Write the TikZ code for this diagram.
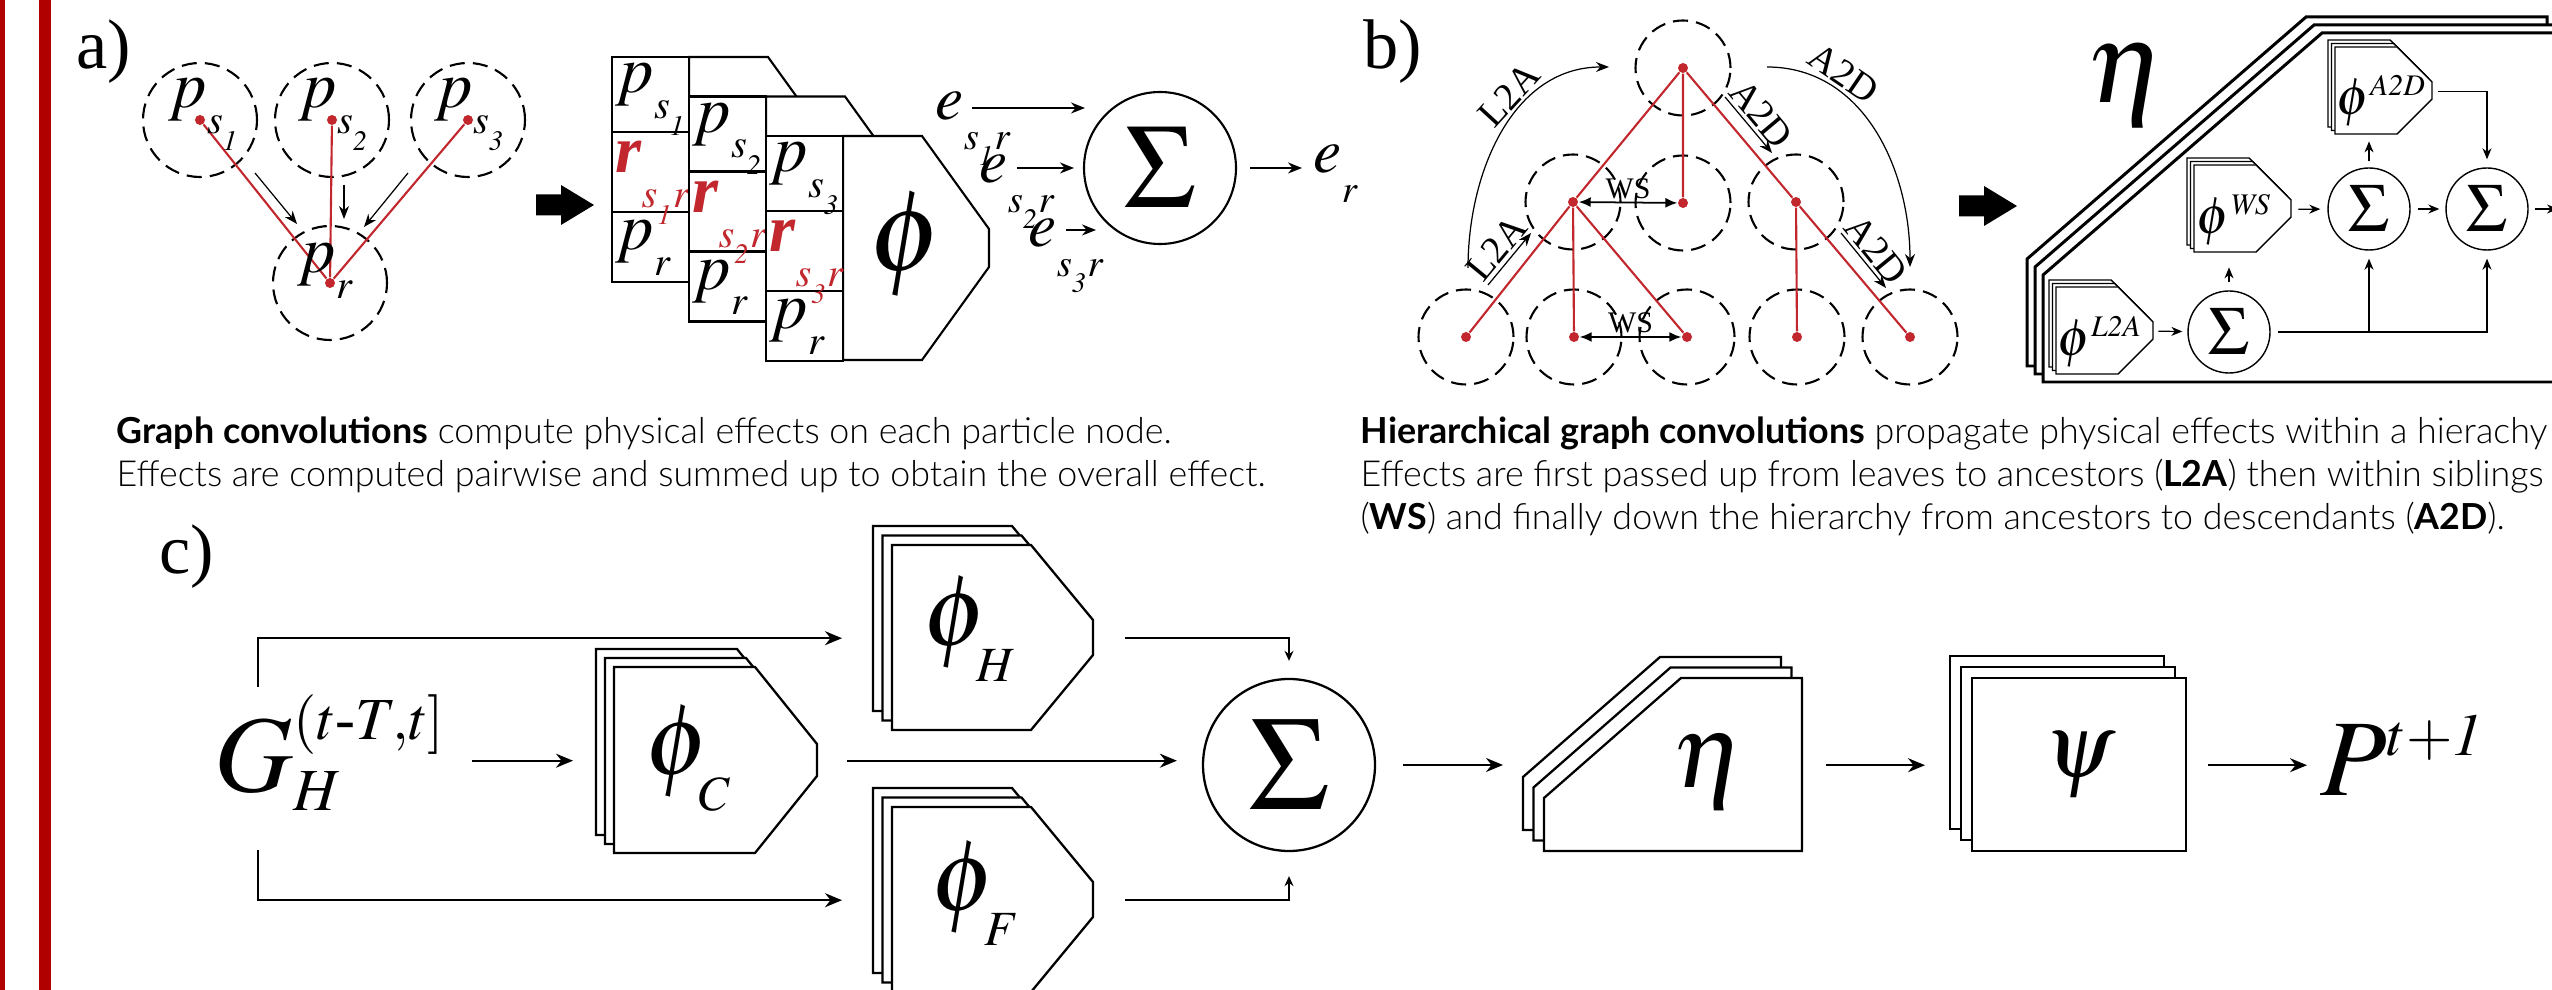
\documentclass[tikz,border=0pt]{standalone}
\usepackage{amsmath}
\usepackage{mathptmx}
\usepackage[no-math]{fontspec}
\setmainfont{Liberation Serif}
\setsansfont{Lato}[UprightFont=* Light, BoldFont=* Bold]
\usetikzlibrary{arrows.meta,calc}
\definecolor{PathRed}{HTML}{C1272D}
\definecolor{BarRed}{HTML}{B00000}
\DeclareMathSizes{31}{31}{17}{14}
\DeclareMathSizes{29}{29}{14}{11}
\DeclareMathSizes{19}{19}{11.5}{8}
\DeclareMathSizes{18}{18}{11}{8}
\DeclareMathSizes{15}{15}{8.5}{6}
\newcommand{\lowsub}[2][0.5ex]{\raisebox{-#1}{$\scriptstyle #2$}}
\newcommand{\lowsubb}[2][0.35ex]{\raisebox{-#1}{$\scriptscriptstyle #2$}}
\newcommand{\fsz}[1]{\fontsize{#1}{#1}\selectfont}

\tikzset{
  pics/phistack/.style n args={6}{code={
    \foreach \k in {2,1,0}
      \filldraw[fill=white, line width=#6, shift={(-\k*#5,-\k*#5)}]
        (0,0) -- (#1-#3,0) -- (#1,#4) -- (#1,#2-#4) -- (#1-#3,#2) -- (0,#2) -- cycle;
    \node[inner sep=0, minimum width=#1*0.1mm, minimum height=#2*0.1mm, anchor=north west] (-box) at (0,0) {};
  }},
  pics/etastack/.style n args={6}{code={
    \foreach \k in {2,1,0}
      \filldraw[fill=white, line width=#6, shift={(-\k*#5,-\k*#5)}]
        (0,#4) -- (#3,0) -- (#1,0) -- (#1,#2) -- (0,#2) -- cycle;
    \node[inner sep=0, minimum width=#1*0.1mm, minimum height=#2*0.1mm, anchor=north west] (-box) at (0,0) {};
  }},
  pics/psistack/.style n args={4}{code={
    \foreach \k in {2,1,0}
      \filldraw[fill=white, line width=#4, shift={(-\k*#3,-\k*#3)}] (0,0) rectangle (#1,#2);
    \node[inner sep=0, minimum width=#1*0.1mm, minimum height=#2*0.1mm, anchor=north west] (-box) at (0,0) {};
  }},
  pics/fatarrow/.style={code={
    \fill (0,-10.5) -- (25,-10.5) -- (25,-20) -- (58,0) -- (25,20) -- (25,10.5) -- (0,10.5) -- cycle;
  }}
}

\begin{document}
\begin{tikzpicture}[x=0.1mm, y=-0.1mm,
    lab/.style={font=\rmfamily\fsz{20}, inner sep=0},
    ring/.style={circle, draw, line width=0.6pt, dash pattern=on 4.3pt off 2.3pt, inner sep=0, minimum size=11.4mm},
    ringb/.style={ring, minimum size=9.5mm},
    reddot/.style={circle, fill=PathRed, inner sep=0, minimum size=1mm},
    redline/.style={draw=PathRed, line width=0.6pt},
    blk/.style={fill=white, draw, line width=0.6pt},
    pa/.style={font=\fsz{19}, inner sep=0, anchor=base west},
    ea/.style={font=\fsz{18}, inner sep=0, anchor=base west},
    phb/.style={font=\fsz{15}, inner sep=0, anchor=base west},
    phc/.style={font=\fsz{29}, inner sep=0, anchor=base west},
    sumA/.style={circle, draw, line width=0.6pt, minimum size=15.2mm, inner sep=0, font=\fsz{34}},
    sumB/.style={circle, draw, line width=0.4pt, minimum size=8.2mm, inner sep=0, font=\fsz{19.5}},
    sumC/.style={circle, draw, line width=0.65pt, minimum size=17.2mm, inner sep=0, font=\fsz{38}},
    tarr/.style={-{Stealth[length=1.3mm, width=1mm]}, line width=0.35pt},
    aarr/.style={-{Stealth[length=1.4mm, width=1.1mm]}, line width=0.5pt},
    sarr/.style={-{Stealth[length=1.1mm, width=0.9mm]}, line width=0.35pt},
    carr/.style={-{Stealth[length=1.7mm, width=1.4mm]}, line width=0.6pt},
    carr2/.style={-{Stealth[length=1mm, width=0.9mm]}, line width=0.5pt},
    wsarr/.style={{Latex[length=1.2mm, width=1mm]}-{Latex[length=1.2mm, width=1mm]}, line width=0.5pt},
    wslab/.style={above, inner sep=0.8pt, font=\rmfamily\fsz{8.5}},
    tlab/.style={inner sep=1pt, font=\rmfamily\fsz{11}},
    captext/.style={font=\sffamily\fsz{10.2}, inner sep=0, anchor=base west}
  ]
  \useasboundingbox (0,0) rectangle (2552,990);
  \fill[BarRed] (0,0) rectangle (5,990);
  \fill[BarRed] (39,0) rectangle (51,990);

  \node[lab] (laba) at (104,52) {a)};
  \foreach \n/\x/\y in {s1/200/120, s2/332/120, s3/468/120, r/330/283} {
    \node[ring] (c\n) at (\x,\y) {};
    \node[reddot] (d\n) at (\x,\y) {};
  }
  \draw[redline] (ds1) -- (dr) (ds2) -- (dr) (ds3) -- (dr);
  \node[pa] (ls1) at (168,108) {$p_{\lowsub{s_{\lowsubb{\mathit{1}}}}}$};
  \node[pa] (ls2) at (298,108) {$p_{\lowsub{s_{\lowsubb{\mathit{2}}}}}$};
  \node[pa] (ls3) at (434,108) {$p_{\lowsub{s_{\lowsubb{\mathit{3}}}}}$};
  \node[pa] (lr) at (297,273) {$p_{\lowsub{r}}$};
  \coordinate (a1s) at (255,173); \coordinate (a1e) at (297,224);
  \coordinate (a2s) at (344,185); \coordinate (a2e) at (344,219);
  \coordinate (a3s) at (408,173); \coordinate (a3e) at (364,227);
  \draw[tarr] (a1s) -- (a1e);
  \draw[tarr] (a2s) -- (a2e);
  \draw[tarr] (a3s) -- (a3e);
  \pic at (536,205) {fatarrow};

  \foreach \i/\s in {0/1,1/2,2/3} {
    \pgfmathsetmacro{\xa}{612+77*\i}
    \pgfmathsetmacro{\ya}{57+39.5*\i}
    \filldraw[blk] (\xa+77,\ya) -- ++(79,0) -- ++(67,93) -- ++(0,38) -- ++(-67,93) -- ++(-79,0) -- cycle;
    \filldraw[blk] (\xa,\ya) rectangle ++(77,225);
    \draw[blk] (\xa,\ya+75) -- ++(77,0) (\xa,\ya+155) -- ++(77,0);
    \node[pa] (bp\s) at (\xa+3,\ya+36) {$p_{\lowsub{s_{\lowsubb{\mathit{\s}}}}}$};
    \node[pa, text=PathRed] (br\s) at (\xa+3,\ya+116) {$\text{\bfseries\itshape r}_{\lowsub[0.8ex]{s_{\lowsubb{\mathit{\s}}}r}}$};
    \node[pa] (bq\s) at (\xa+3,\ya+193) {$p_{\lowsub{r}}$};
  }
  \node[font=\fsz{33}, inner sep=0] (phiA) at (906,245) {$\phi$};

  \node[ea] (es1) at (935,120) {$e_{\lowsub[0.7ex]{s_{\lowsubb{\mathit{1}}}r}}$};
  \node[ea] (es2) at (979,183) {$e_{\lowsub[0.7ex]{s_{\lowsubb{\mathit{2}}}r}}$};
  \node[ea] (es3) at (1028,247) {$e_{\lowsub[0.7ex]{s_{\lowsubb{\mathit{3}}}r}}$};
  \node[sumA] (sigA) at (1160,168) {$\Sigma$};
  \coordinate (e1a) at (972,108); \coordinate (e1b) at (1085,108);
  \coordinate (e2a) at (1017,168); \coordinate (e2b) at (1074,168);
  \coordinate (e3a) at (1066,230); \coordinate (e3b) at (1096,230);
  \draw[aarr] (e1a) -- (e1b);
  \draw[aarr] (e2a) -- (e2b);
  \draw[aarr] (e3a) -- (e3b);
  \node[ea] (er) at (1313,173) {$e_{\lowsub[0.7ex]{r}}$};
  \draw[aarr, shorten <=1.3mm, shorten >=1.1mm] (sigA) -- (sigA -| er.west);

  \node[captext] (capa1) at (116,444) {\textbf{Graph convolutions} compute physical effects on each particle node.};
  \node[captext] (capa2) at (116,487) {Effects are computed pairwise and summed up to obtain the overall effect.};

  \node[lab] (labb) at (1393,52) {b)};
  \foreach \n/\x/\y in {t0/1683/68, t1a/1573/202, t1b/1683/203, t1c/1796/202, t2a/1466/337, t2b/1574/337, t2c/1687/337, t2d/1797/337, t2e/1910/337} {
    \node[ringb] (c\n) at (\x,\y) {};
    \node[reddot] (\n) at (\x,\y) {};
  }
  \draw[redline] (t0) -- (t1a) (t0) -- (t1b) (t0) -- (t1c)
    (t1a) -- (t2a) (t1a) -- (t2b) (t1a) -- (t2c) (t1c) -- (t2d) (t1c) -- (t2e);
  \draw[wsarr] (t1a) -- node[wslab] (ws1) {WS} (t1b);
  \draw[wsarr] (t2b) -- node[wslab] (ws2) {WS} (t2c);
  \coordinate (l2aA) at (1488,285); \coordinate (l2aB) at (1531,233);
  \draw[tarr] (l2aA) -- node[tlab, sloped, above] (l2aS) {L2A} (l2aB);
  \coordinate (a2dA) at (1725,97); \coordinate (a2dB) at (1772,153);
  \draw[tarr] (a2dA) -- node[tlab, sloped, above] (a2dS1) {A2D} (a2dB);
  \coordinate (a2dC) at (1841,233); \coordinate (a2dD) at (1886,288);
  \draw[tarr] (a2dC) -- node[tlab, sloped, above] (a2dS2) {A2D} (a2dD);
  \coordinate (l2aC) at (1468,268); \coordinate (l2aD) at (1609,67);
  \draw[tarr] (l2aC) .. controls +(0,-96) and +(-96,0) .. (l2aD) node[tlab, sloped, above, pos=0.62] (l2aL) {L2A};
  \coordinate (a2dE) at (1767,67); \coordinate (a2dF) at (1910,267);
  \draw[tarr] (a2dE) .. controls +(97,0) and +(0,-97) .. (a2dF) node[tlab, sloped, above, pos=0.27] (a2dL) {A2D};
  \pic at (1959,206) {fatarrow};

  \pic (etaB) at (2043,33) {etastack={520}{349}{279}{242}{8}{0.85pt}};
  \node[font=\fsz{33}, inner sep=0] (etaBl) at (2126,85) {$\eta$};
  \pic (pL2A) at (2056,287) {phistack={97}{87}{35}{35}{3.5}{0.4pt}};
  \pic (pWS) at (2194,165) {phistack={97}{87}{35}{35}{3.5}{0.4pt}};
  \pic (pA2D) at (2335,47) {phistack={97}{87}{35}{35}{3.5}{0.4pt}};
  \node[phb] (pL2Al) at (2057,356) {$\phi^{\mathit{L2A}}$};
  \node[phb] (pWSl) at (2196,234) {$\phi^{\mathit{WS}}$};
  \node[phb] (pA2Dl) at (2336,115) {$\phi^{\mathit{A2D}}$};
  \node[sumB] (s1) at (2229,332) {$\Sigma$};
  \node[sumB] (s2) at (2369,209) {$\Sigma$};
  \node[sumB] (s3) at (2487,209) {$\Sigma$};
  \draw[sarr, shorten <=0.4mm, shorten >=0.5mm] (pL2A-box.east) -- (s1);
  \draw[sarr, shorten <=0.8mm, shorten >=1.4mm] (s1) -- (s1 |- pWS-box.south);
  \draw[sarr, shorten <=0.6mm, shorten >=0.7mm] (pWS-box.east) -- (s2);
  \draw[sarr, shorten <=0.6mm, shorten >=0.6mm] (s2) -- (s2 |- pA2D-box.south);
  \draw[sarr, shorten <=0.7mm, shorten >=0.6mm] (s2) -- (s3);
  \draw[sarr, shorten <=0.5mm, shorten >=0.8mm] (pA2D-box.east) -| (s3);
  \draw[sarr, shorten <=0.7mm, shorten >=0.8mm] (s1) -| (s3);
  \draw[sarr, shorten >=0.8mm] (s2 |- s1) -- (s2);
  \coordinate (bout) at (2558,209);
  \draw[sarr, shorten <=0.6mm] (s3) -- (bout);

  \node[captext] (capb1) at (1360,444) {\textbf{Hierarchical graph convolutions} propagate physical effects within a hierachy};
  \node[captext] (capb2) at (1360,487) {Effects are first passed up from leaves to ancestors (\textbf{L2A}) then within siblings};
  \node[captext] (capb3) at (1360,530) {(\textbf{WS}) and finally down the hierarchy from ancestors to descendants (\textbf{A2D}).};

  \node[lab] (labc) at (187,557) {c)};
  \node[font=\fsz{31}, inner sep=0, anchor=base west] (gin) at (214,792) {$G^{(t\text{-}T,t]}_{H}$};
  \pic (phiC) at (614,667) {phistack={203}{186}{62}{77}{9}{0.65pt}};
  \pic (phiH) at (892,545) {phistack={201}{185}{62}{75}{9.5}{0.65pt}};
  \pic (phiF) at (892,807) {phistack={201}{185}{62}{75}{9.5}{0.65pt}};
  \node[phc] (phiCl) at (645,775) {$\phi_{\lowsub[0.43ex]{C}}$};
  \node[phc] (phiHl) at (923,646) {$\phi_{\lowsub[0.43ex]{H}}$};
  \node[phc] (phiFl) at (931,910) {$\phi_{\lowsub[0.43ex]{F}}$};
  \node[sumC] (sigC) at (1289,765) {$\Sigma$};
  \pic (etaC) at (1544,678) {etastack={258}{173}{137}{120}{10.5}{0.65pt}};
  \pic (psiC) at (1972,678) {psistack={214}{173}{11}{0.65pt}};
  \node[font=\fsz{30}, inner sep=0] (etaCl) at (1709,772) {$\eta$};
  \node[font=\fsz{26}, inner sep=0] (psiCl) at (2080,765) {$\psi$};
  \node[font=\fsz{31}, inner sep=0, anchor=base west] (pout) at (2320,795) {$P^{t+\mathit{1}}$};
  \coordinate (gtop) at (258,687); \coordinate (gbot) at (258,850);
  \draw[carr, shorten >=5mm] (gtop) |- (phiH-box.west);
  \draw[carr, shorten >=5mm] (gbot) |- (phiF-box.west);
  \draw[carr, shorten <=2.5mm, shorten >=4.1mm] (gin.east |- phiC-box.west) -- (phiC-box.west);
  \draw[carr, shorten <=2.9mm, shorten >=2.5mm] (phiC-box.east) -- (phiC-box.east -| sigC.west);
  \draw[carr2, shorten <=3.1mm, shorten >=1.7mm] (phiH-box.east) -| (sigC.north);
  \draw[carr2, shorten <=3.1mm, shorten >=2.4mm] (phiF-box.east) -| (sigC.south);
  \draw[carr, shorten <=2.7mm, shorten >=4.1mm] (sigC) -- (sigC -| etaC-box.west);
  \draw[carr, shorten <=2.3mm, shorten >=4.7mm] (etaC-box.east) -- (psiC-box.west);
  \draw[carr, shorten <=2.1mm, shorten >=1.3mm] (psiC-box.east) -- (psiC-box.east -| pout.west);
\end{tikzpicture}
\end{document}
